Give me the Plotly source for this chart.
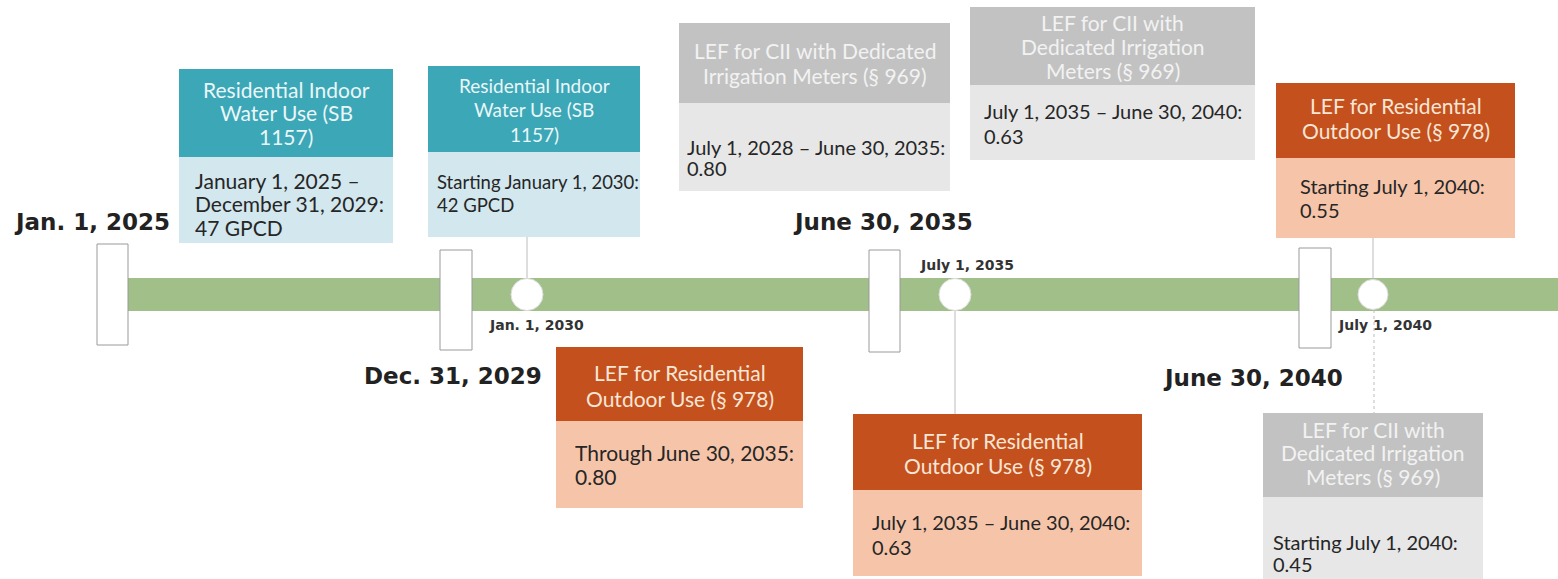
import plotly.graph_objects as go

# ---------------- data ----------------
milestone_labels = ["Jan. 1, 2025", "Dec. 31, 2029", "June 30, 2035", "June 30, 2040"]
event_labels = ["Jan. 1, 2030", "July 1, 2035", "July 1, 2040"]

box_titles = [
    "Residential Indoor<br>Water Use (SB<br>1157)",
    "Residential Indoor<br>Water Use (SB<br>1157)",
    "LEF for CII with Dedicated<br>Irrigation Meters (§ 969)",
    "LEF for CII with<br>Dedicated Irrigation<br>Meters (§ 969)",
    "LEF for Residential<br>Outdoor Use (§ 978)",
    "LEF for Residential<br>Outdoor Use (§ 978)",
    "LEF for Residential<br>Outdoor Use (§ 978)",
    "LEF for CII with<br>Dedicated Irrigation<br>Meters (§ 969)",
]
box_bodies = [
    "January 1, 2025 –<br>December 31, 2029:<br>47 GPCD",
    "Starting January 1, 2030:<br>42 GPCD",
    "July 1, 2028 – June 30, 2035:<br>0.80",
    "July 1, 2035 – June 30, 2040:<br>0.63",
    "Starting July 1, 2040:<br>0.55",
    "Through June 30, 2035:<br>0.80",
    "July 1, 2035 – June 30, 2040:<br>0.63",
    "Starting July 1, 2040:<br>0.45",
]
box_kinds = ["indoor", "indoor", "cii", "cii", "outdoor", "outdoor", "outdoor", "cii"]

# ---------------- layout / style ----------------
W, H = 1558, 579
palette = {  # header fill, body fill, header text
    "indoor": ("#3ba7b7", "#d3e7ee", "#eaf6f8"),
    "cii": ("#c2c2c2", "#e7e7e7", "#f2f2f2"),
    "outdoor": ("#c4501d", "#f6c5a9", "#f8e6d6"),
}
# x0, x1, header_top, header_bottom, body_bottom, title_size, title_y0, title_gap,
# body_size, body_y0, body_gap, pad
box_geom = [
    (179, 393, 69, 157, 243, 21, 89, 23.5, 21, 180, 23.5, 14),
    (428, 640, 66, 152, 237, 19, 85, 24.5, 18.5, 182, 23, 7),
    (679, 950, 23, 103, 191, 21, 50, 25, 20, 147, 21, 6),
    (970, 1255, 7, 85, 160, 21, 22, 24, 20, 111, 25, 12),
    (1276, 1515, 83, 158, 238, 21, 105, 25, 20, 186, 24, 22),
    (556, 803, 347, 421, 508, 21, 372, 26, 21, 452, 24, 17),
    (853, 1142, 414, 490, 576, 21, 440, 25, 20, 522, 25, 17),
    (1263, 1483, 413, 497, 579, 21, 429, 23.5, 20, 542, 22, 8),
]
# milestone marker rectangles (x0, x1, y0, y1) and label centre
marker_geom = [(97, 128, 244, 345), (440, 472, 250, 350), (869, 900, 250, 352), (1299, 1331, 248, 348)]
milestone_pos = [(92, 222), (453, 376), (883, 222), (1253, 378)]
# event circles (cx, r), label centre, connectors (x, y0, y1, dash)
event_geom = [(527, 16), (955, 16), (1373, 15)]
event_label_pos = [(536, 325), (967, 265), (1385, 325)]
connectors = [(527, 237, 280, "solid"), (955, 310, 414, "solid"), (1373, 238, 280, "solid"), (1374, 310, 413, "dot")]
bar_y = (278, 311)
bar_x = (128, 1558)

shapes = []
annotations = []

# timeline bar
shapes.append(dict(type="rect", x0=bar_x[0], x1=bar_x[1], y0=bar_y[0], y1=bar_y[1],
                   fillcolor="#a1bf89", line=dict(width=0), layer="below"))

# connectors
for cx, y0, y1, dash in connectors:
    shapes.append(dict(type="line", x0=cx, x1=cx, y0=y0, y1=y1,
                       line=dict(color="#bcbcbc", width=1, dash=dash)))

# event circles
cy = (bar_y[0] + bar_y[1]) / 2
for (cx, r), lab, (lx, ly) in zip(event_geom, event_labels, event_label_pos):
    shapes.append(dict(type="circle", x0=cx - r, x1=cx + r, y0=cy - r, y1=cy + r,
                       fillcolor="white", line=dict(color="#dcdcdc", width=1)))
    annotations.append(dict(x=lx, y=ly, text="<b>" + lab + "</b>", showarrow=False,
                            font=dict(family="DejaVu Sans", size=14, color="#333333")))

# milestone markers
for (x0, x1, y0, y1), lab, (lx, ly) in zip(marker_geom, milestone_labels, milestone_pos):
    shapes.append(dict(type="rect", x0=x0, x1=x1, y0=y0, y1=y1,
                       fillcolor="white", line=dict(color="#9a9a9a", width=1)))
    annotations.append(dict(x=lx, y=ly, text="<b>" + lab + "</b>", showarrow=False,
                            font=dict(family="DejaVu Sans", size=23, color="#222222")))

# boxes
for title, body, kind, g in zip(box_titles, box_bodies, box_kinds, box_geom):
    x0, x1, ht, hb, bb, tfs, ty0, tgap, bfs, by0, bgap, pad = g
    hc, bc, tc = palette[kind]
    shapes.append(dict(type="rect", x0=x0, x1=x1, y0=ht, y1=hb, fillcolor=hc, line=dict(width=0)))
    shapes.append(dict(type="rect", x0=x0, x1=x1, y0=hb, y1=bb, fillcolor=bc, line=dict(width=0)))
    for i, t in enumerate(title.split("<br>")):
        annotations.append(dict(x=(x0 + x1) / 2, y=ty0 + i * tgap, text=t,
                                showarrow=False, xanchor="center", yanchor="middle",
                                font=dict(family="Lato", size=tfs, color=tc)))
    for i, t in enumerate(body.split("<br>")):
        annotations.append(dict(x=x0 + pad, y=by0 + i * bgap, text=t, showarrow=False,
                                xanchor="left", yanchor="middle",
                                font=dict(family="Lato", size=bfs, color="#262626")))

fig = go.Figure()
fig.update_layout(
    width=W, height=H,
    margin=dict(l=0, r=0, t=0, b=0),
    paper_bgcolor="white", plot_bgcolor="white",
    xaxis=dict(range=[0, W], visible=False, fixedrange=True),
    yaxis=dict(range=[H, 0], visible=False, fixedrange=True),
    shapes=shapes, annotations=annotations, showlegend=False,
)
fig.write_html("out.html", config={"displayModeBar": False},
               post_script="document.body.style.margin='0';")
